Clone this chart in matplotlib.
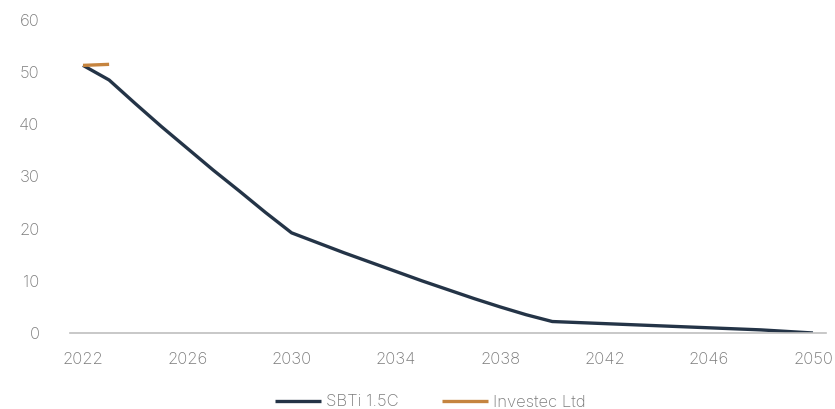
import matplotlib
matplotlib.use("Agg")
import matplotlib.pyplot as plt
import numpy as np

plt.rcParams['font.family'] = ['Inter', 'DejaVu Sans']
plt.rcParams['font.weight'] = 'light'

years = list(range(2022, 2051))
sbti = [51.3, 48.5, 44.0, 39.6, 35.4, 31.2, 27.2, 23.1, 19.2,
        17.3, 15.4, 13.6, 11.8, 10.0, 8.3, 6.6, 5.0, 3.5, 2.2,
        2.0, 1.8, 1.6, 1.4, 1.2, 1.0, 0.8, 0.6, 0.3, 0.0]
investec_years = [2022, 2023]
investec = [51.3, 51.5]
xtick_years = [2022, 2026, 2030, 2034, 2038, 2042, 2046, 2050]
yticks = [0, 10, 20, 30, 40, 50, 60]

W, H = 835, 409
fig = plt.figure(figsize=(W/100, H/100), dpi=100)
ax = fig.add_axes([70/W, (H-333)/H, (826-70)/W, (333-20)/H])

ax.plot(years, sbti, color='#243447', lw=2.4, label='SBTi 1.5C', solid_capstyle='butt')
ax.plot(investec_years, investec, color='#C5843F', lw=2.4, label='Investec Ltd', solid_capstyle='butt')

ax.set_xlim(2021.5, 2050.5)
ax.set_ylim(0, 60)
ax.set_xticks(xtick_years)
ax.set_xticklabels([str(y) for y in xtick_years])
ax.set_yticks(yticks)
for s in ['top', 'right', 'left']:
    ax.spines[s].set_visible(False)
ax.spines['bottom'].set_color('#BFBFBF')
ax.spines['bottom'].set_linewidth(1.2)
ax.tick_params(axis='both', length=0, labelsize=12, colors='#7A7A7A')
ax.tick_params(axis='x', pad=14)
ax.tick_params(axis='y', pad=22)

fig.legend(loc='center', bbox_to_anchor=(430/W, 1 - 402/H), ncol=2, frameon=False,
           fontsize=12, labelcolor='#7A7A7A', handlelength=2.8, columnspacing=2.6,
           handletextpad=0.25)

fig.savefig('out.png', dpi=100)
